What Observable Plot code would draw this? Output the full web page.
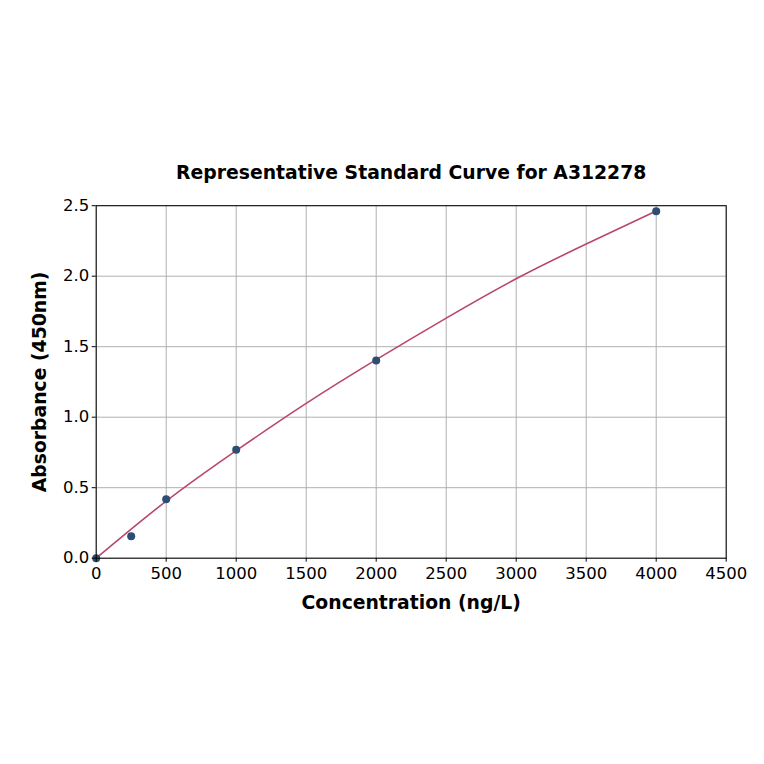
<!DOCTYPE html>
<html>
<head>
<meta charset="utf-8">
<script src="https://cdn.jsdelivr.net/npm/d3@7"></script>
<script src="https://cdn.jsdelivr.net/npm/@observablehq/plot@0.6"></script>
<style>
  html, body { margin: 0; padding: 0; background: #fff; }
  #chart svg { display: block; }
</style>
</head>
<body>
<div id="chart"></div>
<script>
// Standard points
const concentrations = [0, 250, 500, 1000, 2000, 4000];
const absorbances = [0.0, 0.156, 0.418, 0.769, 1.402, 2.461];
// Fitted curve
const curveX = [0, 500, 1000, 1500, 2000, 2500, 3000, 3500, 4000];
const curveY = [0.0, 0.405, 0.763, 1.098, 1.408, 1.703, 1.982, 2.228, 2.462];
const xTicks = [0, 500, 1000, 1500, 2000, 2500, 3000, 3500, 4000, 4500];
const yTicks = [0.0, 0.5, 1.0, 1.5, 2.0, 2.5];
const titleText = "Representative Standard Curve for A312278";
const xLabel = "Concentration (ng/L)";
const yLabel = "Absorbance (450nm)";

const points = concentrations.map((c, i) => ({x: c, y: absorbances[i]}));
const curve = curveX.map((c, i) => ({x: c, y: curveY[i]}));

const font = "DejaVu Sans, sans-serif";

const chart = Plot.plot({
  width: 764,
  height: 764,
  marginLeft: 95.7,
  marginRight: 38.3,
  marginTop: 205.2,
  marginBottom: 206.3,
  style: {fontFamily: font, fontSize: "16.5px", color: "#000", background: "#fff"},
  x: {domain: [0, 4500], label: null},
  y: {domain: [0, 2.5], label: null},
  marks: [
    Plot.gridX(xTicks, {stroke: "#b0b0b0", strokeOpacity: 1, strokeWidth: 1}),
    Plot.gridY(yTicks, {stroke: "#b0b0b0", strokeOpacity: 1, strokeWidth: 1}),
    Plot.line(curve, {x: "x", y: "y", curve: "natural", stroke: "#b9476d", strokeWidth: 1.6}),
    Plot.dot(points, {x: "x", y: "y", r: 4, fill: "#2e4d73", stroke: "none"}),
    Plot.frame({stroke: "#000", strokeWidth: 1}),
    Plot.axisX({ticks: xTicks, tickFormat: d => String(d), tickSize: 4, tickPadding: 5, fontSize: 16.5, label: null}),
    Plot.axisY({ticks: yTicks, tickFormat: d => d.toFixed(1), tickSize: 4, tickPadding: 3, fontSize: 16.5, label: null}),
    Plot.text([titleText], {frameAnchor: "top", dy: -40, fontSize: 18.8, fontWeight: "bold", fill: "#000"}),
    Plot.text([xLabel], {frameAnchor: "bottom", dy: 51, fontSize: 18.8, fontWeight: "bold", fill: "#000"}),
    Plot.text([yLabel], {frameAnchor: "left", dx: -56, rotate: -90, textAnchor: "middle", fontSize: 18.8, fontWeight: "bold", fill: "#000"})
  ]
});
document.getElementById("chart").appendChild(chart);
</script>
</body>
</html>
